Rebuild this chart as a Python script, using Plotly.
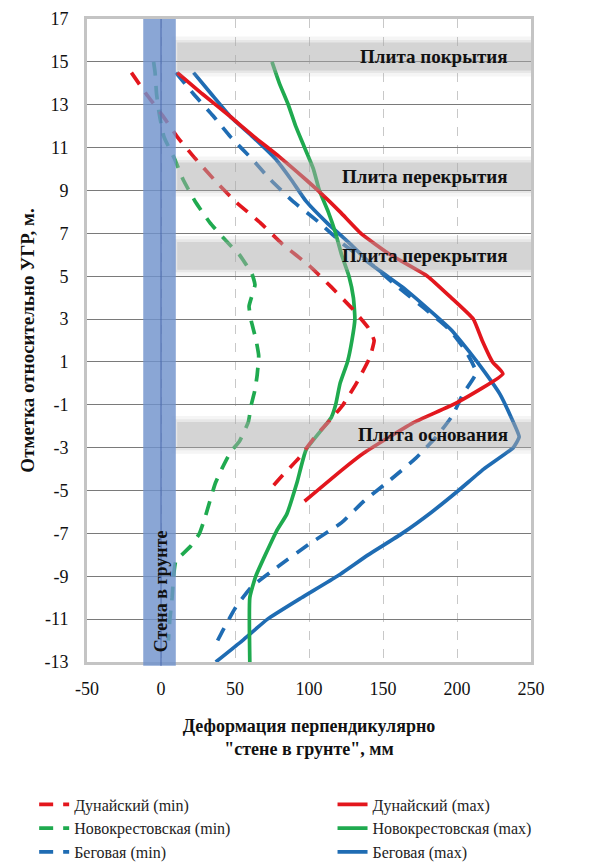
import plotly.graph_objects as go

# Elevation relative to groundwater level (m) and deformation perpendicular to the diaphragm wall (mm)
dun_min_y = [14.5, 13.5, 12.5, 11.5, 10.5, 9.5, 8.5, 7.5, 6.5, 5.5, 4.5, 3.5, 2.6, 2.0, 1.2, 0.0, -1.0, -1.5, -2.5, -3.5, -4.3, -5.0]
dun_min_x = [-20, -10, 1, 11, 23, 36, 50, 67, 82, 100, 115, 129, 140, 144, 141, 132, 123, 117, 104, 93, 82, 73]

dun_max_y = [14.5, 13.5, 12.44, 11.5, 10.57, 9.5, 9.0, 8.0, 7.0, 6.0, 5.0, 4.0, 3.0, 2.0, 1.0, 0.45, -0.9, -1.85, -3.25, -4.0, -5.5]
dun_max_x = [11, 28, 47, 63, 80, 98, 106, 121, 135, 155, 180, 196, 211, 217, 224, 231, 200, 170, 137, 123, 97]

nov_min_y = [15.0, 14.5, 13.5, 12.5, 11.5, 10.5, 9.5, 8.5, 7.5, 6.5, 6.0, 5.1, 4.6, 3.6, 2.9, 2.1, 1.3, 0.4, -0.3, -1.0, -1.8, -2.7, -3.2, -4.0, -4.7, -5.5, -6.2, -7.0, -7.6, -8.3, -9.0, -10.0, -11.0, -12.0]
nov_min_x = [-5, -4, -3, -1, 2, 9, 15, 23, 33, 46, 53, 61.5, 63.5, 59.5, 61, 64, 66, 65, 63.5, 61, 59, 53, 47, 41, 36.5, 33, 30, 26, 20, 10, 8.5, 7.5, 6, 5]

nov_max_y = [15.0, 14.0, 13.0, 12.0, 11.0, 10.0, 9.0, 8.0, 7.0, 6.0, 5.0, 4.0, 3.0, 2.0, 1.0, 0.0, -1.0, -1.6, -3.1, -4.6, -6.1, -6.9, -9.0, -10.0, -13.0]
nov_max_x = [75, 80, 86, 91, 97, 103, 107, 113, 118, 122, 127, 130, 131, 129, 126, 121, 118, 115, 98, 92, 85, 78, 64, 60, 60]

beg_min_y = [14.5, 13.5, 12.5, 11.5, 10.5, 9.5, 8.5, 7.5, 6.5, 5.5, 4.5, 3.5, 2.5, 1.5, 0.5, -0.5, -1.5, -2.5, -3.5, -4.5, -5.5, -6.5, -7.5, -8.5, -9.5, -10.5, -11.5, -12.3]
beg_min_x = [10, 22, 35, 47, 61, 74, 89, 107, 123, 143, 160, 178, 195, 206, 213, 204, 197, 186, 172, 155, 137, 122, 100, 80, 61, 50, 42, 36]

beg_max_y = [14.5, 13.5, 12.44, 11.5, 10.5, 9.5, 8.5, 7.5, 6.5, 5.5, 4.5, 3.5, 2.5, 1.5, 0.5, -0.5, -1.5, -2.5, -3.0, -4.0, -5.0, -6.0, -7.0, -8.0, -9.0, -10.0, -11.0, -12.0, -13.0]
beg_max_x = [22, 34, 47, 62, 77, 88, 98, 112, 128, 143, 163, 180, 196, 208, 219, 229, 236, 242, 238, 218, 201, 183, 163, 140, 119, 95, 72, 55, 37]

# Floor slabs: label, bottom and top elevation
slab_names = ["Плита покрытия", "Плита перекрытия", "Плита перекрытия", "Плита основания"]
slab_bottom = [14.6, 9.0, 5.3, -3.0]
slab_top = [15.9, 10.3, 6.6, -1.8]

wall_label = "Стена в грунте"
x_ticks = [-50, 0, 50, 100, 150, 200, 250]
y_ticks = list(range(-13, 18, 2))

RED = "#e3161d"
GREEN = "#1faa4f"
BLUE = "#1f6cb3"
SERIF = "Liberation Serif, Tinos, Times New Roman, DejaVu Serif"
DASH = "14px,10px"

fig = go.Figure()

# (name, x, y, colour, dash, legend, rank); "min" series fill the left legend column
series = [
    ("Беговая (min)", beg_min_x, beg_min_y, BLUE, DASH, "legend", 3),
    ("Беговая (max)", beg_max_x, beg_max_y, BLUE, "solid", "legend2", 3),
    ("Новокрестовская (min)", nov_min_x, nov_min_y, GREEN, DASH, "legend", 2),
    ("Новокрестовская (max)", nov_max_x, nov_max_y, GREEN, "solid", "legend2", 2),
    ("Дунайский (min)", dun_min_x, dun_min_y, RED, DASH, "legend", 1),
    ("Дунайский (max)", dun_max_x, dun_max_y, RED, "solid", "legend2", 1),
]
for name, xs, ys, color, dash, leg, rank in series:
    fig.add_trace(go.Scatter(
        x=xs, y=ys, mode="lines", name=name, legend=leg, legendrank=rank,
        line=dict(color=color, width=3.7, dash=dash, shape="spline", smoothing=0.4),
    ))

shapes = []
# Semi-transparent slab bands with soft edges
for y0, y1 in zip(slab_bottom, slab_top):
    for pad, xl, alpha in [(0.28, 7, 0.12), (0.12, 9, 0.18), (0.0, 11, 0.32)]:
        shapes.append(dict(
            type="rect", xref="x", yref="y", x0=xl, x1=250, y0=y0 - pad, y1=y1 + pad,
            fillcolor=f"rgba(170,170,170,{alpha})", line=dict(width=0), layer="above",
        ))
# Diaphragm wall band
shapes.append(dict(
    type="rect", xref="x", yref="paper", x0=-12, x1=10, y0=-0.006, y1=1,
    fillcolor="rgba(112,146,204,0.82)", line=dict(width=0), layer="above",
))
shapes.append(dict(
    type="line", xref="x", yref="paper", x0=0, x1=0, y0=-0.006, y1=1,
    line=dict(color="rgba(70,100,170,0.9)", width=1), layer="above",
))

annotations = []
for name, y0, y1 in zip(slab_names, slab_bottom, slab_top):
    annotations.append(dict(
        x=236, y=(y0 + y1) / 2, xref="x", yref="y", text=f"<b>{name}</b>",
        showarrow=False, xanchor="right", yanchor="middle",
        font=dict(family=SERIF, size=19, color="#111111"),
    ))
annotations.append(dict(
    x=0, y=-9.7, xref="x", yref="y", text=f"<b>{wall_label}</b>", textangle=-90,
    showarrow=False, xanchor="center", yanchor="middle",
    font=dict(family=SERIF, size=18, color="#111111"),
))

legend_style = dict(
    orientation="v", xanchor="left", yanchor="top", traceorder="normal",
    font=dict(family=SERIF, size=16, color="#222222"),
    bgcolor="rgba(0,0,0,0)", tracegroupgap=0, itemwidth=30,
)

fig.update_layout(
    width=601, height=865,
    margin=dict(l=87, r=70, t=19, b=203, autoexpand=False),
    paper_bgcolor="white", plot_bgcolor="white",
    shapes=shapes, annotations=annotations,
    font=dict(family=SERIF, size=17, color="#111111"),
    xaxis=dict(
        range=[-50, 250], tickvals=x_ticks, ticktext=[str(v) for v in x_ticks],
        showgrid=True, gridcolor="#c8c8c8", gridwidth=1, griddash="dash",
        zeroline=False, showline=True, linecolor="#c4c4c4", linewidth=3, mirror=True,
        ticks="", ticklabelstandoff=8, tickfont=dict(family=SERIF, size=18),
        title=dict(text="<b>Деформация перпендикулярно<br>\"стене в грунте\", мм</b>",
                   font=dict(family=SERIF, size=18), standoff=22),
    ),
    yaxis=dict(
        range=[-13, 17], tickvals=y_ticks, ticktext=[str(v) for v in y_ticks],
        showgrid=True, gridcolor="#7a7a7a", gridwidth=1,
        zeroline=False, showline=True, linecolor="#c4c4c4", linewidth=3, mirror=True,
        ticks="", ticklabelstandoff=12, tickfont=dict(family=SERIF, size=18),
        title=dict(text="<b>Отметка относительно УГР, м.</b>",
                   font=dict(family=SERIF, size=19), standoff=5),
    ),
    legend=dict(x=-0.119, y=-0.195, **legend_style),
    legend2=dict(x=0.553, y=-0.195, **legend_style),
)

fig.write_html("out.html")
